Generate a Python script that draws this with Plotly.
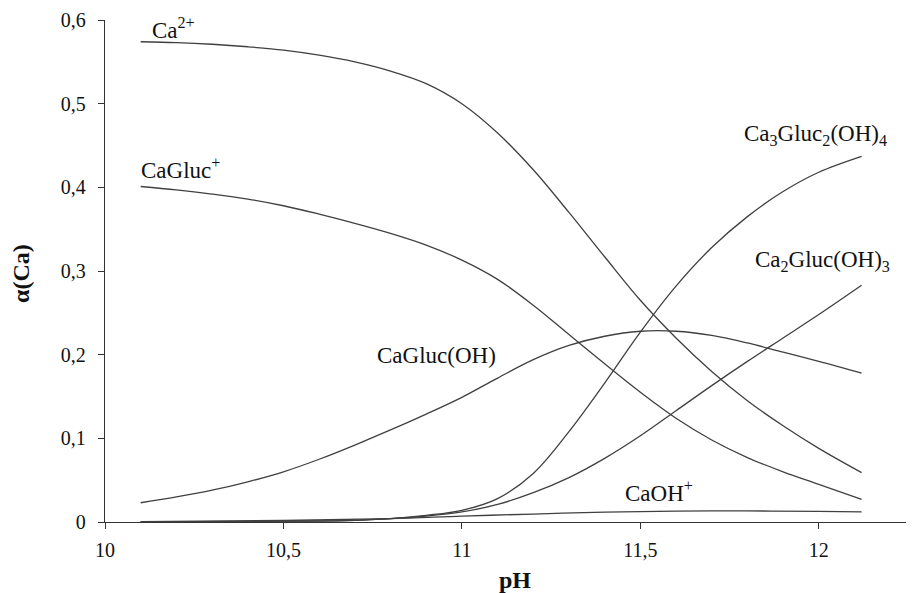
import plotly.graph_objects as go

# ---- data ----
ph_ca = [10.1, 10.2, 10.3, 10.4, 10.5, 10.6, 10.7, 10.8, 10.9, 11.0, 11.1, 11.2, 11.3, 11.4, 11.5, 11.6, 11.7, 11.8, 11.9, 12.0, 12.12]
a_ca = [0.574, 0.573, 0.571, 0.568, 0.564, 0.558, 0.550, 0.539, 0.524, 0.500, 0.465, 0.421, 0.370, 0.317, 0.265, 0.220, 0.180, 0.145, 0.115, 0.088, 0.059]

ph_cagluc = [10.1, 10.2, 10.3, 10.4, 10.5, 10.6, 10.7, 10.8, 10.9, 11.0, 11.1, 11.2, 11.3, 11.4, 11.5, 11.6, 11.7, 11.8, 11.9, 12.0, 12.12]
a_cagluc = [0.401, 0.397, 0.392, 0.386, 0.378, 0.368, 0.357, 0.345, 0.331, 0.313, 0.290, 0.259, 0.224, 0.189, 0.155, 0.124, 0.098, 0.077, 0.060, 0.045, 0.027]

ph_caglucoh = [10.1, 10.2, 10.3, 10.4, 10.5, 10.6, 10.7, 10.8, 10.9, 11.0, 11.1, 11.2, 11.3, 11.4, 11.5, 11.6, 11.7, 11.8, 11.9, 12.0, 12.12]
a_caglucoh = [0.023, 0.030, 0.038, 0.048, 0.060, 0.075, 0.092, 0.110, 0.129, 0.149, 0.172, 0.194, 0.211, 0.222, 0.228, 0.228, 0.223, 0.214, 0.203, 0.192, 0.178]

ph_ca3 = [10.1, 10.3, 10.5, 10.6, 10.7, 10.8, 10.9, 11.0, 11.1, 11.2, 11.3, 11.4, 11.5, 11.6, 11.7, 11.8, 11.9, 12.0, 12.12]
a_ca3 = [0.000, 0.000, 0.001, 0.001, 0.002, 0.004, 0.008, 0.014, 0.028, 0.058, 0.108, 0.166, 0.227, 0.282, 0.328, 0.365, 0.395, 0.418, 0.437]

ph_ca2 = [10.1, 10.5, 10.7, 10.8, 10.9, 11.0, 11.1, 11.2, 11.3, 11.4, 11.5, 11.6, 11.7, 11.8, 11.9, 12.0, 12.12]
a_ca2 = [0.000, 0.001, 0.002, 0.004, 0.007, 0.012, 0.021, 0.035, 0.053, 0.076, 0.103, 0.133, 0.163, 0.192, 0.220, 0.248, 0.283]

ph_caoh = [10.1, 10.5, 10.8, 11.0, 11.2, 11.4, 11.6, 11.8, 12.0, 12.12]
a_caoh = [0.0005, 0.0018, 0.004, 0.007, 0.0095, 0.0118, 0.0130, 0.0132, 0.0127, 0.0122]

x_ticks = [10, 10.5, 11, 11.5, 12]
y_ticks = [0, 0.1, 0.2, 0.3, 0.4, 0.5, 0.6]

# label text and anchor positions (pH, alpha)
labels = ["Ca<sup>2+</sup>", "CaGluc<sup>+</sup>", "CaGluc(OH)",
          "Ca<sub>3</sub>Gluc<sub>2</sub>(OH)<sub>4</sub>", "Ca<sub>2</sub>Gluc(OH)<sub>3</sub>", "CaOH<sup>+</sup>"]
label_x = [10.126, 10.095, 10.757, 11.785, 11.815, 11.452]
label_y = [0.590, 0.423, 0.199, 0.462, 0.312, 0.036]

FONT = "'Liberation Serif', 'Times New Roman', Times, 'DejaVu Serif', serif"
LINE_COLOR = "#404040"

fig = go.Figure()
for xs, ys in [(ph_ca, a_ca), (ph_cagluc, a_cagluc), (ph_caglucoh, a_caglucoh),
               (ph_ca3, a_ca3), (ph_ca2, a_ca2), (ph_caoh, a_caoh)]:
    fig.add_trace(go.Scatter(x=xs, y=ys, mode="lines",
                             line=dict(color=LINE_COLOR, width=1.3, shape="spline", smoothing=1.0),
                             showlegend=False, hoverinfo="skip"))

for t, lx, ly in zip(labels, label_x, label_y):
    fig.add_annotation(x=lx, y=ly, xref="x", yref="y", text=t, showarrow=False,
                       xanchor="left", yanchor="middle",
                       font=dict(family=FONT, size=23, color="#111"))

fig.add_annotation(x=0.507, y=-0.1155, xref="paper", yref="paper", text="<b>pH</b>",
                   showarrow=False, xanchor="center", yanchor="middle",
                   font=dict(family=FONT, size=24, color="#111"))
fig.add_annotation(x=-0.104, y=0.496, xref="paper", yref="paper", text="<b>α(Ca)</b>",
                   textangle=-90, showarrow=False, xanchor="center", yanchor="middle",
                   font=dict(family=FONT, size=24, color="#111"))

# page body has an 8px margin: shrink figure and margins so the plot area lands where the reference has it
fig.update_layout(
    width=906, height=585,
    margin=dict(l=97, r=1, t=12, b=71),
    paper_bgcolor="white", plot_bgcolor="white",
    separators=", ",
    font=dict(family=FONT, size=20, color="#111"),
    xaxis=dict(range=[10, 12.264], tickvals=x_ticks, ticks="outside", ticklen=6,
               tickcolor="#333", tickwidth=1.3, showline=True, linecolor="#333", linewidth=1.3,
               showgrid=False, zeroline=False, ticklabelstandoff=4,
               tickfont=dict(family=FONT, size=20, color="#111")),
    yaxis=dict(range=[0, 0.6], tickvals=y_ticks, ticks="outside", ticklen=6,
               tickcolor="#333", tickwidth=1.3, showline=True, linecolor="#333", linewidth=1.3,
               showgrid=False, zeroline=False, ticklabelstandoff=8,
               tickfont=dict(family=FONT, size=20, color="#111")),
)

fig.write_html("out.html")
